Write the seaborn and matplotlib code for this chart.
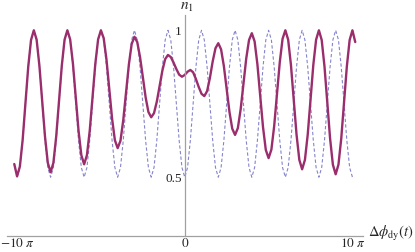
import numpy as np
import matplotlib
matplotlib.use("Agg")
import matplotlib.pyplot as plt
import seaborn as sns

# sample step along the phase axis (units of pi)
phase_step = 1 / 6

# n1 with the non-adiabatic correction at x = k*pi/6, k = -61..61
n1_full = [
    0.545, 0.503,
    0.536, 0.627, 0.752, 0.876, 0.967, 1.000,
    0.968, 0.879, 0.758, 0.638, 0.549, 0.517,
    0.549, 0.638, 0.758, 0.879, 0.968, 1.000,
    0.969, 0.886, 0.772, 0.658, 0.575, 0.544,
    0.575, 0.658, 0.772, 0.886, 0.969, 1.000,
    0.973, 0.900, 0.800, 0.699, 0.626, 0.599,
    0.624, 0.694, 0.789, 0.883, 0.953, 0.978,
    0.960, 0.909, 0.841, 0.772, 0.722, 0.704,
    0.718, 0.757, 0.810, 0.863, 0.902, 0.916,
    0.909, 0.890, 0.868, 0.849, 0.842,
    0.848, 0.859, 0.865,
    0.857, 0.834, 0.807, 0.784, 0.776,
    0.793, 0.838, 0.894, 0.939, 0.956,
    0.935, 0.878, 0.800, 0.722, 0.665, 0.644,
    0.667, 0.731, 0.817, 0.904, 0.967, 0.990,
    0.962, 0.884, 0.777, 0.671, 0.593, 0.565,
    0.594, 0.674, 0.783, 0.891, 0.971, 1.000,
    0.968, 0.882, 0.763, 0.645, 0.559, 0.527,
    0.559, 0.645, 0.763, 0.882, 0.968, 1.000,
    0.967, 0.877, 0.755, 0.632, 0.543, 0.510,
    0.543, 0.632, 0.755, 0.877, 0.967, 1.000,
    0.960,
]

# adiabatic n1 (dashed): one period, k = -60..60
adiabatic_period = [0.500, 0.533, 0.625, 0.750, 0.875, 0.967,
                    1.000, 0.967, 0.875, 0.750, 0.625, 0.533]
n1_adiabatic = adiabatic_period * 10 + [0.500]

x_ticks = [-10 * np.pi, 0, 10 * np.pi]
x_ticklabels = [r"$-10\ \pi$", r"$0$", r"$10\ \pi$"]
y_ticks = [0.5, 1.0]
y_ticklabels = ["0.5", "1"]

k_full = np.arange(-(len(n1_full) // 2), len(n1_full) // 2 + 1)
k_adia = np.arange(-(len(n1_adiabatic) // 2), len(n1_adiabatic) // 2 + 1)
x_full = k_full * phase_step * np.pi
x_adia = k_adia * phase_step * np.pi

sns.set_style("white")
plt.rcParams["font.family"] = ["Liberation Serif", "DejaVu Serif"]
plt.rcParams["mathtext.fontset"] = "stix"

fig = plt.figure(figsize=(4.15, 2.52), dpi=100)
ax = fig.add_axes([7 / 415, 16 / 252, 356 / 415, 221 / 252])

sns.lineplot(x=x_adia, y=n1_adiabatic, ax=ax, color="#6f6fc4", lw=0.8,
             linestyle=(0, (3, 2)), alpha=0.85)
sns.lineplot(x=x_full, y=n1_full, ax=ax, color="#9a2d6c", lw=1.7)

ax.set_xlim(-10.6 * np.pi, 10.63 * np.pi)
ax.set_ylim(0.3, 1.052)

axis_grey = "#a0a0a0"
ax.spines["left"].set_position(("data", 0))
for side in ("top", "right"):
    ax.spines[side].set_visible(False)
for side in ("left", "bottom"):
    ax.spines[side].set_color(axis_grey)
    ax.spines[side].set_linewidth(0.9)

ax.set_xticks(x_ticks)
ax.set_xticklabels(x_ticklabels)
ax.set_yticks(y_ticks)
ax.set_yticklabels(y_ticklabels)
ax.tick_params(axis="both", direction="in", length=3, width=0.7,
               color=axis_grey, labelsize=9.5, pad=2)
ax.tick_params(axis="x", pad=0.5)

ax.text(0.4, 1.078, r"$n_1$", fontsize=11, ha="center", va="center",
        clip_on=False)
ax.text(10.95 * np.pi, 0.31, r"$\Delta\phi_{\mathrm{dy}}(t)$", fontsize=10.5,
        ha="left", va="center", clip_on=False)

ax.set_xlabel("")
ax.set_ylabel("")
fig.savefig("out.png", dpi=100)
